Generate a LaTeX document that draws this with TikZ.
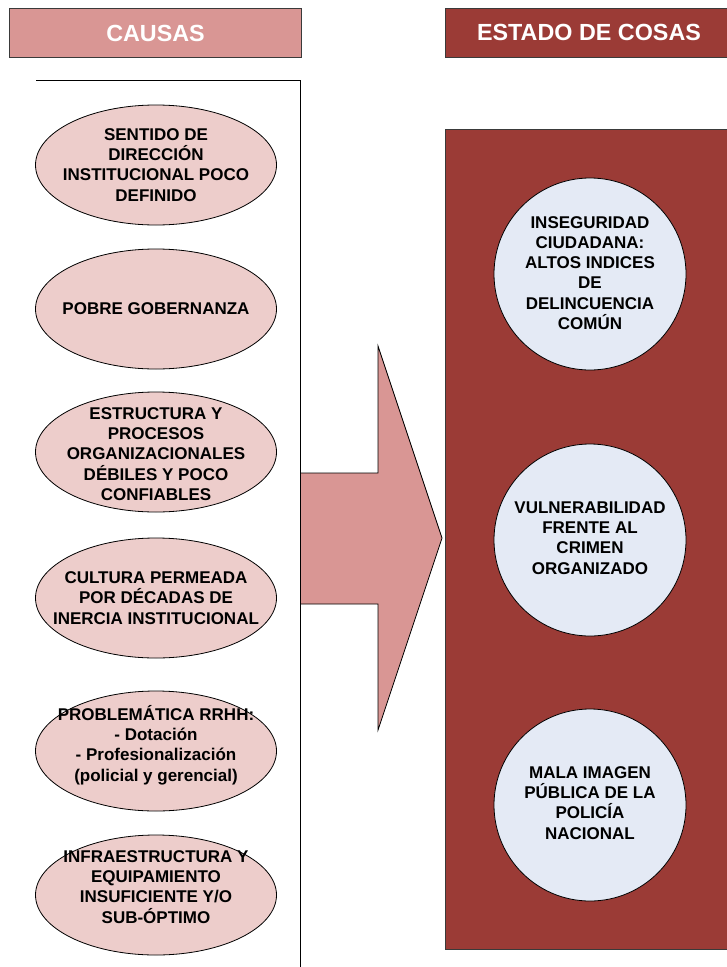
\documentclass[tikz,border=0pt]{standalone}
\usepackage{fontspec}
\setmainfont{Liberation Sans}
\usetikzlibrary{shapes.geometric}
\definecolor{hdrpink}{HTML}{D99694}
\definecolor{hdrred}{HTML}{9B3B36}
\definecolor{ellfill}{HTML}{EDCDCB}
\definecolor{circfill}{HTML}{E4EAF5}
\definecolor{edgegray}{HTML}{3A3A3A}
\tikzset{
  hdrbox/.style={draw=edgegray, line width=0.8pt, anchor=north west, inner sep=0pt, minimum height=36.75pt},
  hdrtext/.style={text=white, font=\bfseries\fontsize{17.5}{20}\selectfont},
  causeell/.style={ellipse, draw=black, line width=0.6pt, fill=ellfill, minimum width=180.75pt, minimum height=90pt, inner sep=0pt},
  effcirc/.style={circle, draw=black, line width=0.6pt, fill=circfill, minimum size=144pt, inner sep=0pt},
  bodytext/.style={align=center, inner sep=0pt, font=\bfseries\fontsize{12.75}{15.2}\selectfont},
}
\begin{document}
\begin{tikzpicture}[x=0.75pt, y=-0.75pt]
\useasboundingbox (0,0) rectangle (726,967);
% headers
\node[hdrbox, fill=hdrpink, minimum width=219pt] (hc) at (9,8) {};
\node[hdrtext] (hct) at (hc.center) {CAUSAS};
\node[hdrbox, fill=hdrred, minimum width=216pt] (he) at (445,8) {};
\node[hdrtext] (het) at (589,32.5) {ESTADO DE COSAS};
% left panel
\coordinate (pl) at (36,80.5);
\coordinate (pr) at (300.5,80.5);
\coordinate (pb) at (300.5,970);
\draw[line width=0.7pt] (pl) -- (pr) -- (pb);
% right panel
\node[draw=edgegray, line width=0.8pt, fill=hdrred, minimum width=216pt, minimum height=615pt, anchor=north west, inner sep=0pt] (rp) at (445,128.5) {};
% arrow
\coordinate (a1) at (300.5,473);
\coordinate (a2) at (378,473);
\coordinate (a3) at (378,346);
\coordinate (a4) at (442,538);
\coordinate (a5) at (378,730);
\coordinate (a6) at (378,604);
\coordinate (a7) at (300.5,604);
\draw[fill=hdrpink, draw=black, line width=0.6pt, line join=miter] (a1) -- (a2) -- (a3) -- (a4) -- (a5) -- (a6) -- (a7) -- cycle;
\draw[line width=0.7pt] (pr) -- (pb);
% causes
\node[causeell] (e1) at (156,165) {};
\node[bodytext] (t1) at (e1.center) {SENTIDO DE\\DIRECCIÓN\\INSTITUCIONAL POCO\\DEFINIDO};
\node[causeell] (e2) at (156,309) {};
\node[bodytext] (t2) at (e2.center) {POBRE GOBERNANZA};
\node[causeell] (e3) at (156,452) {};
\node[bodytext] (t3) at (156,454) {ESTRUCTURA Y\\PROCESOS\\ORGANIZACIONALES\\DÉBILES Y POCO\\CONFIABLES};
\node[causeell] (e4) at (156,598) {};
\node[bodytext] (t4) at (e4.center) {CULTURA PERMEADA\\POR DÉCADAS DE\\INERCIA INSTITUCIONAL};
\node[causeell] (e5) at (156,751) {};
\node[bodytext] (t5) at (156,745) {PROBLEMÁTICA RRHH:\\- Dotación\\- Profesionalización\\(policial y gerencial)};
\node[causeell] (e6) at (156,895) {};
\node[bodytext] (t6) at (156,887) {INFRAESTRUCTURA Y\\EQUIPAMIENTO\\INSUFICIENTE Y/O\\SUB-ÓPTIMO};
% effects
\node[effcirc] (c1) at (590,274) {};
\node[bodytext] (u1) at (590,273) {INSEGURIDAD\\CIUDADANA:\\ALTOS INDICES\\DE\\DELINCUENCIA\\COMÚN};
\node[effcirc] (c2) at (590,540) {};
\node[bodytext] (u2) at (590,538) {VULNERABILIDAD\\FRENTE AL\\CRIMEN\\ORGANIZADO};
\node[effcirc] (c3) at (590,805) {};
\node[bodytext] (u3) at (590,803) {MALA IMAGEN\\PÚBLICA DE LA\\POLICÍA\\NACIONAL};
\end{tikzpicture}
\end{document}
